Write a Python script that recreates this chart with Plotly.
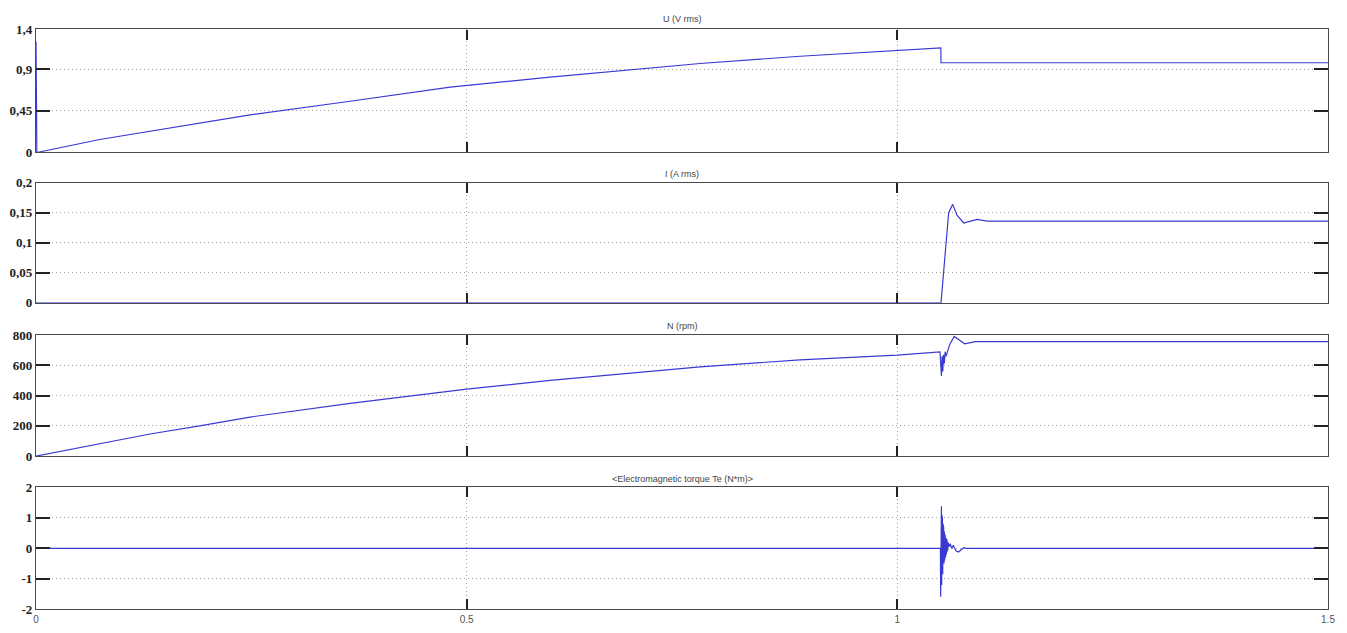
import plotly.graph_objects as go

# ---------------- data ----------------
t_u = [0, 0.001, 0.074, 0.1324, 0.2485, 0.3647, 0.4808, 0.597, 0.713, 0.771, 0.887, 1.0, 1.0505, 1.0507, 1.5]
u_vals = [1.2, 0, 0.14, 0.229, 0.406, 0.554, 0.706, 0.815, 0.915, 0.962, 1.04, 1.10, 1.13, 0.97, 0.97]

t_i = [0, 1.0507, 1.0596, 1.0643, 1.0693, 1.0771, 1.0850, 1.0925, 1.1041, 1.5]
i_vals = [0, 0, 0.150, 0.164, 0.146, 0.133, 0.136, 0.139, 0.136, 0.136]

t_n = [0, 0.1324, 0.19, 0.2485, 0.3647, 0.4808, 0.5, 0.597, 0.713, 0.771, 0.887, 1.0, 1.0495,
       1.0505, 1.0512, 1.0520, 1.0528, 1.0536, 1.0545, 1.0555, 1.0565, 1.0610, 1.0660, 1.0700,
       1.0780, 1.0906, 1.5]
n_vals = [0, 146, 200, 258, 348, 430, 443, 500, 560, 590, 636, 667, 688,
          620, 530, 660, 560, 670, 610, 690, 660, 740, 791, 775,
          742, 757, 757]

t_te = [0, 1.0500, 1.0503, 1.0506, 1.0509, 1.0512, 1.0515, 1.0518, 1.0521, 1.0524, 1.0527,
        1.0530, 1.0534, 1.0538, 1.0542, 1.0546, 1.0550, 1.0555, 1.0560, 1.0565, 1.0570,
        1.0576, 1.0582, 1.0590, 1.0600, 1.0615, 1.0630, 1.0650, 1.0680, 1.0710, 1.0740,
        1.0770, 1.0800, 1.5]
te_vals = [0, 0, -1.59, 1.2, -1.3, 1.38, -1.2, 1.1, -1.0, 0.95, -0.85,
           0.8, -0.65, 0.7, -0.5, 0.55, -0.4, 0.45, -0.3, 0.35, -0.2,
           0.3, -0.1, 0.2, 0.05, 0.15, 0.0, 0.1, -0.08, -0.12, -0.05,
           0.02, 0, 0]

titles = ["U (V rms)", "I (A rms)", "N (rpm)", "<Electromagnetic torque Te (N*m)>"]

u_ticks = [0, 0.45, 0.9, 1.33]
u_ticktext = ["0", "0,45", "0,9", "1,4"]
i_ticks = [0, 0.05, 0.1, 0.15, 0.2]
i_ticktext = ["0", "0,05", "0,1", "0,15", "0,2"]
n_ticks = [0, 200, 400, 600, 800]
n_ticktext = ["0", "200", "400", "600", "800"]
te_ticks = [-2, -1, 0, 1, 2]
te_ticktext = ["-2", "-1", "0", "1", "2"]
x_ticks = [0, 0.5, 1, 1.5]
x_ticktext = ["0", "0.5", "1", "1.5"]

# ---------------- layout geometry ----------------
W, H = 1347, 633
panels_px = [(23, 149), (180, 303), (336, 460), (492, 617)]  # top, bottom pixel rows
title_px = [12, 171, 327, 483]

def dom(top, bottom):
    return [1 - bottom / H, 1 - top / H]

line_color = "#3a3ad2"
frame = "#4a4a4a"
grid = "#a0a0a0"

fig = go.Figure()
series = [(t_u, u_vals), (t_i, i_vals), (t_n, n_vals), (t_te, te_vals)]
for k, (tx, vy) in enumerate(series):
    sfx = "" if k == 0 else str(k + 1)
    fig.add_trace(go.Scatter(x=tx, y=vy, mode="lines",
                             line=dict(color=line_color, width=1.2),
                             xaxis="x" + sfx, yaxis="y" + sfx, showlegend=False,
                             hoverinfo="skip"))

yinfo = [([0, 1.33], u_ticks, u_ticktext),
         ([0, 0.2], i_ticks, i_ticktext),
         ([0, 800], n_ticks, n_ticktext),
         ([-2, 2], te_ticks, te_ticktext)]

layout = dict(
    width=W, height=H,
    margin=dict(l=36, r=19, t=0, b=0),
    paper_bgcolor="white", plot_bgcolor="white",
    showlegend=False,
)

for k in range(4):
    sfx = "" if k == 0 else str(k + 1)
    rng, tv, tt = yinfo[k]
    layout["xaxis" + sfx] = dict(
        domain=[0, 1], range=[0, 1.5], anchor="y" + sfx,
        tickvals=x_ticks, ticktext=x_ticktext,
        showticklabels=(k == 3),
        ticks="inside", ticklen=10, tickcolor="#222", tickwidth=1.5,
        showline=True, linecolor=frame, linewidth=1.3, mirror="ticks",
        showgrid=True, gridcolor=grid, griddash="1px,3px", gridwidth=1.2,
        zeroline=False, layer="above traces",
        tickfont=dict(family="Liberation Sans", size=10, color="#555"),
        **({} if k == 0 else {"matches": "x"}),
    )
    layout["yaxis" + sfx] = dict(
        domain=dom(*panels_px[k]), range=rng, anchor="x" + sfx,
        tickvals=tv, ticktext=tt,
        ticks="inside", ticklen=14, tickcolor="#222", tickwidth=1.5,
        showline=True, linecolor=frame, linewidth=1.3, mirror="ticks",
        showgrid=True, gridcolor=grid, griddash="1px,3px", gridwidth=1.2,
        zeroline=False,
        tickfont=dict(family="Liberation Serif", size=13, color="#222", weight="bold"),
    )

fig.update_layout(**layout)
for k in range(4):
    fig.add_annotation(text=titles[k], xref="paper", yref="paper",
                       x=0.5, y=1 - title_px[k] / H, xanchor="center", yanchor="middle",
                       showarrow=False,
                       font=dict(family="Liberation Sans", size=9, color="#444"))

fig.write_html("out.html")
